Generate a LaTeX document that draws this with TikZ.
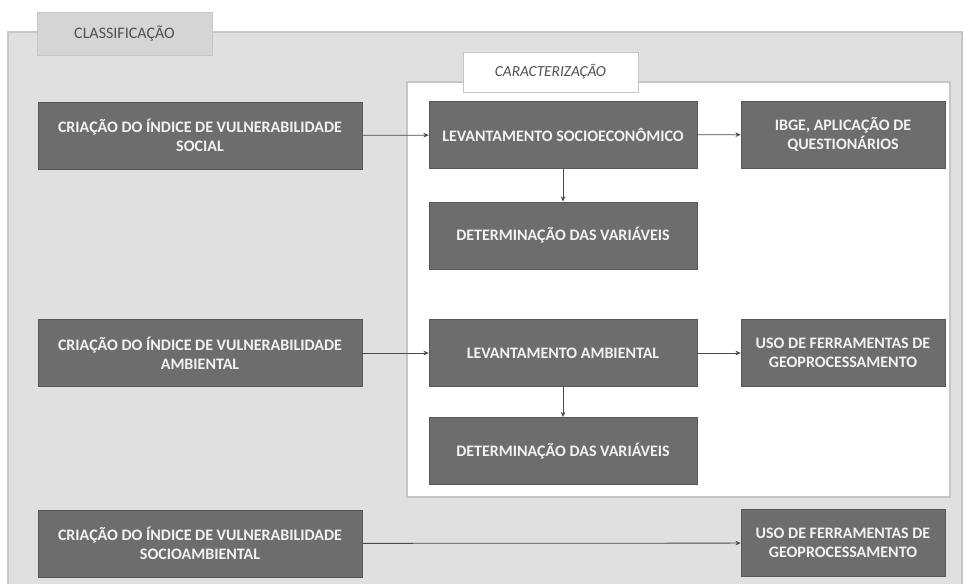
\documentclass[tikz,border=0pt]{standalone}
\usepackage{fontspec}
\setmainfont{Carlito}
\usetikzlibrary{arrows.meta}
\definecolor{painel}{HTML}{E0E0E0}
\definecolor{bordapainel}{HTML}{C6C6C6}
\definecolor{abacinza}{HTML}{D5D5D5}
\definecolor{cinzaescuro}{HTML}{6D6D6D}
\definecolor{textoclaro}{HTML}{F2F2F2}
\definecolor{textoaba}{HTML}{505050}
\definecolor{seta}{HTML}{4A4A4A}

\begin{document}
\begin{tikzpicture}[x=0.75pt,y=-0.75pt,
	caixa/.style={draw=cinzaescuro!80!black,fill=cinzaescuro,text=textoclaro,align=center,inner sep=0pt,
		font=\fontsize{12}{14}\selectfont\bfseries,minimum height=50.5pt},
	esq/.style={caixa,minimum width=243pt},
	meio/.style={caixa,minimum width=201pt},
	dir/.style={caixa,minimum width=153pt},
	aba/.style={draw=bordapainel,text=textoaba,inner sep=0pt,minimum width=131pt,font=\fontsize{12}{14}\selectfont},
	liga/.style={draw=seta,line width=0.6pt,-{Stealth[length=4pt,width=3.5pt]}}]
	\useasboundingbox (0,0) rectangle (963,583);
	\fill[white] (0,0) rectangle (963,583);
	% paineis
	\draw[fill=painel,draw=bordapainel,line width=1pt] (8,32) rectangle (962,590);
	\node[aba,fill=abacinza,minimum height=32pt] (classif) at (124.5,33.5) {CLASSIFICAÇÃO};
	\draw[fill=white,draw=bordapainel,line width=1pt] (407,82) rectangle (950,497);
	\node[aba,fill=white,minimum height=30pt,font=\fontsize{11.5}{13}\selectfont\itshape] (caract) at (550.5,72) {CARACTERIZAÇÃO};
	% caixas
	\node[esq] (social) at (200,135.5) {CRIAÇÃO DO ÍNDICE DE VULNERABILIDADE\\SOCIAL};
	\node[esq] (ambiental) at (200,353) {CRIAÇÃO DO ÍNDICE DE VULNERABILIDADE\\AMBIENTAL};
	\node[esq] (socioamb) at (200,543.5) {CRIAÇÃO DO ÍNDICE DE VULNERABILIDADE\\SOCIOAMBIENTAL};
	\node[meio] (levsocio) at (563,135) {LEVANTAMENTO SOCIOECONÔMICO};
	\node[meio] (varsocio) at (563,235.5) {DETERMINAÇÃO DAS VARIÁVEIS};
	\node[meio] (levamb) at (563,353) {LEVANTAMENTO AMBIENTAL};
	\node[meio] (varamb) at (563,451) {DETERMINAÇÃO DAS VARIÁVEIS};
	\node[dir] (ibge) at (843,134.5) {IBGE, APLICAÇÃO DE\\QUESTIONÁRIOS};
	\node[dir] (geo1) at (843,353) {USO DE FERRAMENTAS DE\\GEOPROCESSAMENTO};
	\node[dir] (geo2) at (843,543) {USO DE FERRAMENTAS DE\\GEOPROCESSAMENTO};
	% setas
	\draw[liga] (social) -- (levsocio);
	\draw[liga] (levsocio) -- (ibge);
	\draw[liga] (levsocio) -- (varsocio);
	\draw[liga] (ambiental) -- (levamb);
	\draw[liga] (levamb) -- (geo1);
	\draw[liga] (levamb) -- (varamb);
	\draw[liga] (socioamb) -- (geo2);
\end{tikzpicture}
\end{document}
